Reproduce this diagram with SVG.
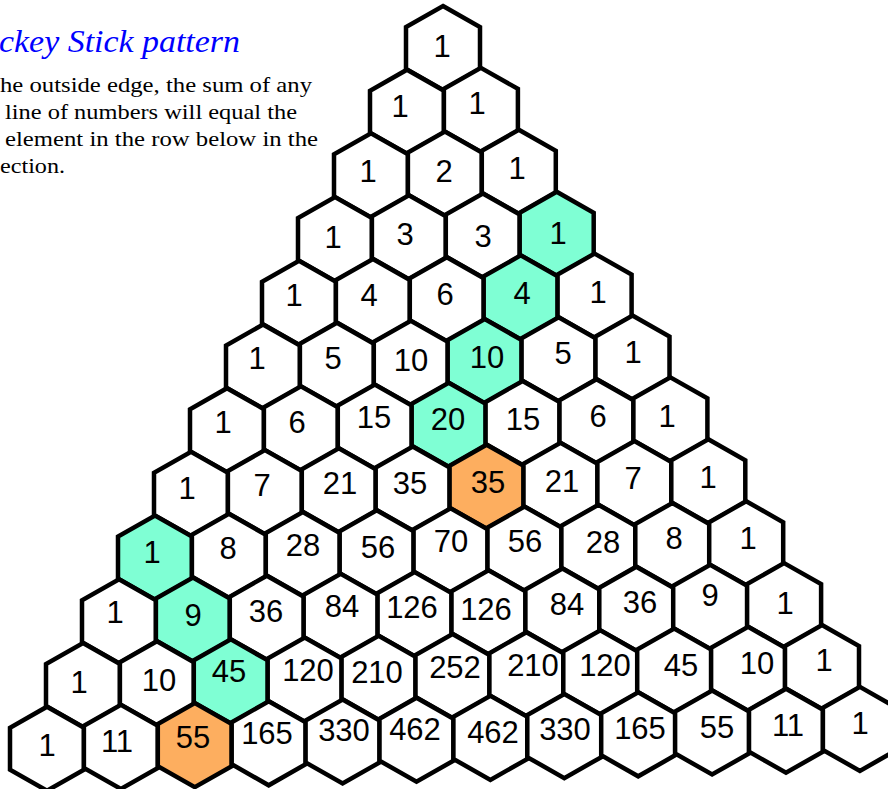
<svg xmlns="http://www.w3.org/2000/svg" xmlns:xlink="http://www.w3.org/1999/xlink" width="888" height="789" viewBox="0 0 888 789">
<style>
.h{stroke:#000;stroke-width:4.5;stroke-linejoin:miter}
.w{fill:#fff}.t{fill:#7FFFD4}.o{fill:#FDAE5F}
.n{font-family:"Liberation Sans",Arial,sans-serif;font-size:31px;text-anchor:middle;fill:#000}
.ti{font-family:"Liberation Serif","Times New Roman",serif;font-style:italic;font-size:31px;fill:#0000FF}
.bd{font-family:"Liberation Serif","Times New Roman",serif;font-size:21px;fill:#000}
</style>
<defs>
<polygon id="hx" points="0,0 37,21 37,63 0,84 -37,63 -37,21"/>
</defs>
<rect width="888" height="789" fill="#fff"/>
<g id="caption">
<text class="ti" x="-1" y="52" textLength="241" lengthAdjust="spacingAndGlyphs">ckey Stick pattern</text>
<text class="bd" x="0" y="92" textLength="312" lengthAdjust="spacingAndGlyphs">he outside edge, the sum of any</text>
<text class="bd" x="5" y="119" textLength="292" lengthAdjust="spacingAndGlyphs">line of numbers will equal the</text>
<text class="bd" x="5" y="146" textLength="313" lengthAdjust="spacingAndGlyphs">element in the row below in the</text>
<text class="bd" x="0" y="173" textLength="65" lengthAdjust="spacingAndGlyphs">ection.</text>
</g>
<g id="connectors"/>
<g id="r0">
<g id="n0_0"><use xlink:href="#hx" href="#hx" class="h w" x="443" y="6"/><text class="n" x="442" y="57">1</text></g>
</g>
<g id="r1">
<g id="n1_0"><use href="#hx" class="h w" x="407" y="69.7"/><text class="n" x="400" y="117">1</text></g>
<g id="n1_1"><use href="#hx" class="h w" x="480.9" y="67.9"/><text class="n" x="477" y="114">1</text></g>
</g>
<g id="r2">
<g id="n2_0"><use href="#hx" class="h w" x="371" y="133.4"/><text class="n" x="368" y="182">1</text></g>
<g id="n2_1"><use href="#hx" class="h w" x="444.9" y="131.6"/><text class="n" x="444" y="182">2</text></g>
<g id="n2_2"><use href="#hx" class="h w" x="518.8" y="129.8"/><text class="n" x="517" y="179">1</text></g>
</g>
<g id="r3">
<g id="n3_0"><use href="#hx" class="h w" x="335" y="197.1"/><text class="n" x="333" y="248">1</text></g>
<g id="n3_1"><use href="#hx" class="h w" x="408.9" y="195.3"/><text class="n" x="405" y="245">3</text></g>
<g id="n3_2"><use href="#hx" class="h w" x="482.8" y="193.5"/><text class="n" x="483" y="247">3</text></g>
<g id="n3_3"><use href="#hx" class="h t" x="556.7" y="191.7"/><text class="n" x="558" y="244">1</text></g>
</g>
<g id="r4">
<g id="n4_0"><use href="#hx" class="h w" x="299" y="260.8"/><text class="n" x="294" y="306">1</text></g>
<g id="n4_1"><use href="#hx" class="h w" x="372.9" y="259"/><text class="n" x="369" y="306">4</text></g>
<g id="n4_2"><use href="#hx" class="h w" x="446.8" y="257.2"/><text class="n" x="445" y="305">6</text></g>
<g id="n4_3"><use href="#hx" class="h t" x="520.7" y="255.4"/><text class="n" x="522" y="304">4</text></g>
<g id="n4_4"><use href="#hx" class="h w" x="594.6" y="253.6"/><text class="n" x="598" y="303">1</text></g>
</g>
<g id="r5">
<g id="n5_0"><use href="#hx" class="h w" x="263" y="324.5"/><text class="n" x="257" y="369">1</text></g>
<g id="n5_1"><use href="#hx" class="h w" x="336.9" y="322.7"/><text class="n" x="333" y="369">5</text></g>
<g id="n5_2"><use href="#hx" class="h w" x="410.8" y="320.9"/><text class="n" x="411" y="371">10</text></g>
<g id="n5_3"><use href="#hx" class="h t" x="484.7" y="319.1"/><text class="n" x="487" y="368">10</text></g>
<g id="n5_4"><use href="#hx" class="h w" x="558.6" y="317.3"/><text class="n" x="563" y="364">5</text></g>
<g id="n5_5"><use href="#hx" class="h w" x="632.5" y="315.5"/><text class="n" x="633" y="363">1</text></g>
</g>
<g id="r6">
<g id="n6_0"><use href="#hx" class="h w" x="227" y="388.2"/><text class="n" x="223" y="433">1</text></g>
<g id="n6_1"><use href="#hx" class="h w" x="300.9" y="386.4"/><text class="n" x="297" y="433">6</text></g>
<g id="n6_2"><use href="#hx" class="h w" x="374.8" y="384.6"/><text class="n" x="374" y="428">15</text></g>
<g id="n6_3"><use href="#hx" class="h t" x="448.7" y="382.8"/><text class="n" x="448" y="430">20</text></g>
<g id="n6_4"><use href="#hx" class="h w" x="522.6" y="381"/><text class="n" x="523" y="430">15</text></g>
<g id="n6_5"><use href="#hx" class="h w" x="596.5" y="379.2"/><text class="n" x="598" y="427">6</text></g>
<g id="n6_6"><use href="#hx" class="h w" x="670.4" y="377.4"/><text class="n" x="667" y="427">1</text></g>
</g>
<g id="r7">
<g id="n7_0"><use href="#hx" class="h w" x="191" y="451.9"/><text class="n" x="187" y="499">1</text></g>
<g id="n7_1"><use href="#hx" class="h w" x="264.9" y="450.1"/><text class="n" x="262" y="496">7</text></g>
<g id="n7_2"><use href="#hx" class="h w" x="338.8" y="448.3"/><text class="n" x="340" y="494">21</text></g>
<g id="n7_3"><use href="#hx" class="h w" x="412.7" y="446.5"/><text class="n" x="410" y="494">35</text></g>
<g id="n7_4"><use href="#hx" class="h o" x="486.6" y="444.7"/><text class="n" x="488" y="493">35</text></g>
<g id="n7_5"><use href="#hx" class="h w" x="560.5" y="442.9"/><text class="n" x="562" y="492">21</text></g>
<g id="n7_6"><use href="#hx" class="h w" x="634.4" y="441.1"/><text class="n" x="633" y="489">7</text></g>
<g id="n7_7"><use href="#hx" class="h w" x="708.3" y="439.3"/><text class="n" x="708" y="488">1</text></g>
</g>
<g id="r8">
<g id="n8_0"><use href="#hx" class="h t" x="155" y="515.6"/><text class="n" x="152" y="563">1</text></g>
<g id="n8_1"><use href="#hx" class="h w" x="228.9" y="513.8"/><text class="n" x="228" y="559">8</text></g>
<g id="n8_2"><use href="#hx" class="h w" x="302.8" y="512"/><text class="n" x="303" y="556">28</text></g>
<g id="n8_3"><use href="#hx" class="h w" x="376.7" y="510.2"/><text class="n" x="378" y="558">56</text></g>
<g id="n8_4"><use href="#hx" class="h w" x="450.6" y="508.4"/><text class="n" x="451" y="552">70</text></g>
<g id="n8_5"><use href="#hx" class="h w" x="524.5" y="506.6"/><text class="n" x="525" y="552">56</text></g>
<g id="n8_6"><use href="#hx" class="h w" x="598.4" y="504.8"/><text class="n" x="603" y="553">28</text></g>
<g id="n8_7"><use href="#hx" class="h w" x="672.3" y="503"/><text class="n" x="674" y="549">8</text></g>
<g id="n8_8"><use href="#hx" class="h w" x="746.2" y="501.2"/><text class="n" x="748" y="549">1</text></g>
</g>
<g id="r9">
<g id="n9_0"><use href="#hx" class="h w" x="119" y="579.3"/><text class="n" x="115" y="623">1</text></g>
<g id="n9_1"><use href="#hx" class="h t" x="192.9" y="577.5"/><text class="n" x="193" y="626">9</text></g>
<g id="n9_2"><use href="#hx" class="h w" x="266.8" y="575.7"/><text class="n" x="266" y="622">36</text></g>
<g id="n9_3"><use href="#hx" class="h w" x="340.7" y="573.9"/><text class="n" x="342" y="617">84</text></g>
<g id="n9_4"><use href="#hx" class="h w" x="414.6" y="572.1"/><text class="n" x="412" y="618">126</text></g>
<g id="n9_5"><use href="#hx" class="h w" x="488.5" y="570.3"/><text class="n" x="486" y="620">126</text></g>
<g id="n9_6"><use href="#hx" class="h w" x="562.4" y="568.5"/><text class="n" x="567" y="615">84</text></g>
<g id="n9_7"><use href="#hx" class="h w" x="636.3" y="566.7"/><text class="n" x="640" y="613">36</text></g>
<g id="n9_8"><use href="#hx" class="h w" x="710.2" y="564.9"/><text class="n" x="710" y="606">9</text></g>
<g id="n9_9"><use href="#hx" class="h w" x="784.1" y="563.1"/><text class="n" x="785" y="614">1</text></g>
</g>
<g id="r10">
<g id="n10_0"><use href="#hx" class="h w" x="83" y="643"/><text class="n" x="79" y="693">1</text></g>
<g id="n10_1"><use href="#hx" class="h w" x="156.9" y="641.2"/><text class="n" x="159" y="691">10</text></g>
<g id="n10_2"><use href="#hx" class="h t" x="230.8" y="639.4"/><text class="n" x="229" y="682">45</text></g>
<g id="n10_3"><use href="#hx" class="h w" x="304.7" y="637.6"/><text class="n" x="308" y="681">120</text></g>
<g id="n10_4"><use href="#hx" class="h w" x="378.6" y="635.8"/><text class="n" x="377" y="683">210</text></g>
<g id="n10_5"><use href="#hx" class="h w" x="452.5" y="634"/><text class="n" x="455" y="678">252</text></g>
<g id="n10_6"><use href="#hx" class="h w" x="526.4" y="632.2"/><text class="n" x="533" y="676">210</text></g>
<g id="n10_7"><use href="#hx" class="h w" x="600.3" y="630.4"/><text class="n" x="605" y="676">120</text></g>
<g id="n10_8"><use href="#hx" class="h w" x="674.2" y="628.6"/><text class="n" x="681" y="676">45</text></g>
<g id="n10_9"><use href="#hx" class="h w" x="748.1" y="626.8"/><text class="n" x="757" y="674">10</text></g>
<g id="n10_10"><use href="#hx" class="h w" x="822" y="625"/><text class="n" x="824" y="671">1</text></g>
</g>
<g id="r11">
<g id="n11_0"><use href="#hx" class="h w" x="47" y="706.7"/><text class="n" x="47" y="756">1</text></g>
<g id="n11_1"><use href="#hx" class="h w" x="120.9" y="704.9"/><text class="n" x="117" y="752">11</text></g>
<g id="n11_2"><use href="#hx" class="h o" x="194.8" y="703.1"/><text class="n" x="193" y="748">55</text></g>
<g id="n11_3"><use href="#hx" class="h w" x="268.7" y="701.3"/><text class="n" x="267" y="744">165</text></g>
<g id="n11_4"><use href="#hx" class="h w" x="342.6" y="699.5"/><text class="n" x="344" y="741">330</text></g>
<g id="n11_5"><use href="#hx" class="h w" x="416.5" y="697.7"/><text class="n" x="415" y="740">462</text></g>
<g id="n11_6"><use href="#hx" class="h w" x="490.4" y="695.9"/><text class="n" x="493" y="743">462</text></g>
<g id="n11_7"><use href="#hx" class="h w" x="564.3" y="694.1"/><text class="n" x="565" y="740">330</text></g>
<g id="n11_8"><use href="#hx" class="h w" x="638.2" y="692.3"/><text class="n" x="640" y="739">165</text></g>
<g id="n11_9"><use href="#hx" class="h w" x="712.1" y="690.5"/><text class="n" x="717" y="738">55</text></g>
<g id="n11_10"><use href="#hx" class="h w" x="786" y="688.7"/><text class="n" x="788" y="736">11</text></g>
<g id="n11_11"><use href="#hx" class="h w" x="859.9" y="686.9"/><text class="n" x="860" y="734">1</text></g>
</g>
</svg>
